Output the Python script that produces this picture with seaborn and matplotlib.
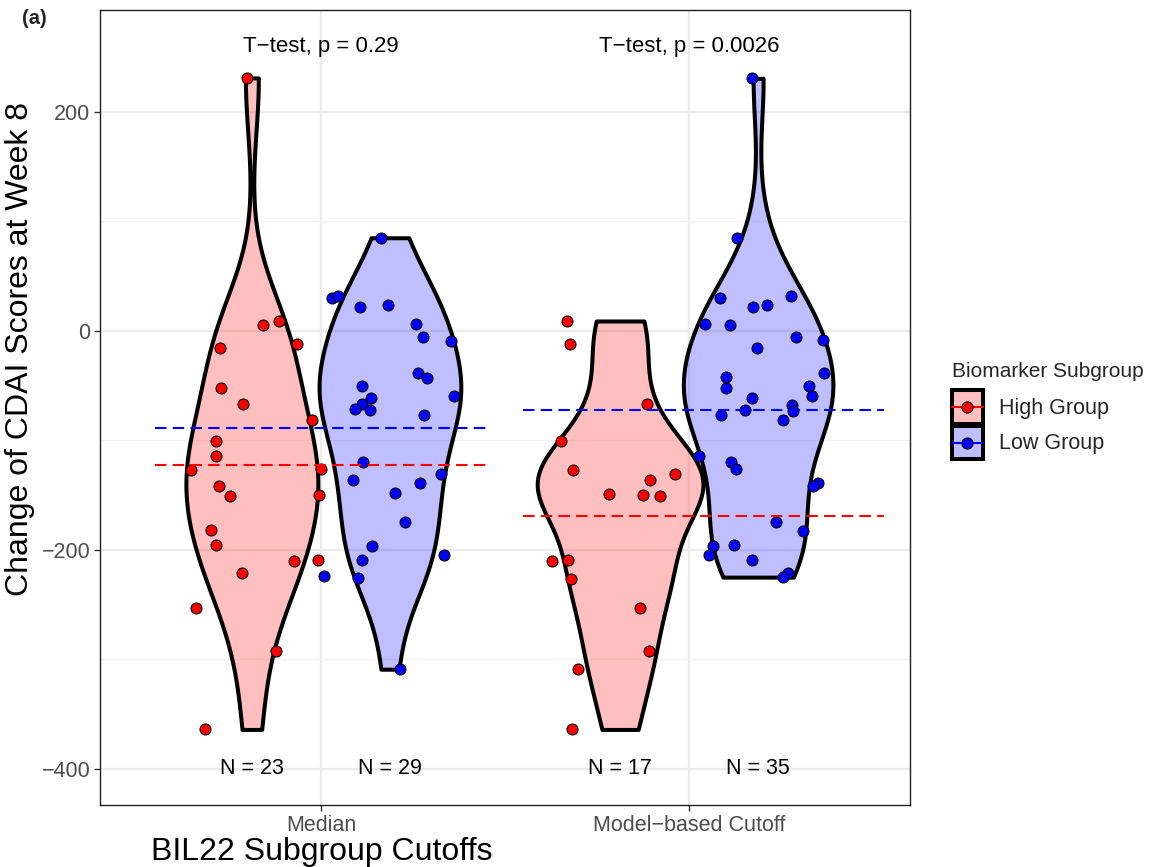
import numpy as np
import pandas as pd
import matplotlib
matplotlib.use("Agg")
import matplotlib.pyplot as plt
import seaborn as sns
from matplotlib.patches import Rectangle
from matplotlib.lines import Line2D
from matplotlib.legend_handler import HandlerBase

# ---- data -------------------------------------------------------------
categories = ["Median", "Model\u2212based Cutoff"]
groups = ["High Group", "Low Group"]
p_values = ["0.29", "0.0026"]

median_high = [231, 5.5, 9, -12, -16, -52, -66.5, -81, -101, -114.6, -126.7,
               -125.8, -141.6, -150.7, -149.5, -182.3, -195.4, -210.3, -209.4,
               -221.2, -253.1, -292, -364]
median_high_dx = [-0.014, 0.030, 0.073, 0.122, -0.087, -0.085, -0.024, 0.164,
                  -0.098, -0.097, -0.166, 0.187, -0.089, -0.059, 0.183, -0.111,
                  -0.098, 0.114, 0.180, -0.026, -0.152, 0.066, -0.127]

median_low = [85, 30, 32, 22, 24, 6, -6, -9, -38.6, -42.8, -50.4, -59.5, -61.7,
              -67.2, -71.7, -72.6, -76.6, -119.4, -136.5, -138.6, -130.6,
              -148.3, -174.4, -196.6, -209.4, -204.5, -224.2, -226, -309]
median_low_dx = [-0.024, -0.158, -0.142, -0.081, -0.005, 0.071, 0.089, 0.165,
                 0.075, 0.100, -0.077, 0.173, -0.052, -0.076, -0.094, -0.054,
                 0.092, -0.073, -0.100, 0.081, 0.140, 0.014, 0.040, -0.048,
                 -0.076, 0.147, -0.180, -0.088, 0.027]

model_high = [9, -12, -66.5, -100.9, -126.7, -130.4, -136.5, -148.6, -149.5,
              -150.4, -210.6, -209.7, -226.3, -253.4, -292, -309, -364]
model_high_dx = [-0.144, -0.135, 0.073, -0.160, -0.129, 0.150, 0.082, -0.031,
                 0.062, 0.108, -0.185, -0.141, -0.134, 0.054, 0.078, -0.114,
                 -0.131]

model_low = [230.6, 84.8, 30, 22, 24, 32, 6, 5.2, -5.5, -8.8, -15.8, -41.7,
             -38.6, -52, -50.8, -59.9, -61.7, -72, -67.7, -72.9, -76.8, -81.8,
             -114.6, -119.7, -125.8, -138.6, -141.6, -174.7, -182.6, -196.3,
             -195.4, -204.5, -209.4, -221.2, -224.9]
model_low_dx = [-0.016, -0.058, -0.103, -0.013, 0.023, 0.089, -0.143, -0.077,
                0.103, 0.176, -0.002, -0.087, 0.180, -0.087, 0.139, 0.145,
                -0.016, -0.036, 0.092, 0.095, -0.102, 0.068, -0.160, -0.074,
                -0.060, 0.162, 0.149, 0.048, 0.122, -0.122, -0.066, -0.134,
                -0.017, 0.081, 0.067]

frames = []
for cat, grp, vals, dx in [
    (categories[0], groups[0], median_high, median_high_dx),
    (categories[0], groups[1], median_low, median_low_dx),
    (categories[1], groups[0], model_high, model_high_dx),
    (categories[1], groups[1], model_low, model_low_dx),
]:
    frames.append(pd.DataFrame({"cutoff": cat, "subgroup": grp,
                                "change": vals, "dx": dx}))
df = pd.concat(frames, ignore_index=True)

# ---- style ------------------------------------------------------------
sns.set_theme(style="white")
plt.rcParams["font.family"] = ["Liberation Sans", "DejaVu Sans"]
plt.rcParams["axes.unicode_minus"] = True

point_colors = {"High Group": "#FF0000", "Low Group": "#0000FF"}
fill_colors = {"High Group": (1.0, 0.0, 0.0, 0.25),
               "Low Group": (0.0, 0.0, 1.0, 0.25)}
dodge = {"High Group": -0.1875, "Low Group": 0.1875}
cat_pos = {c: i + 1 for i, c in enumerate(categories)}
violin_max_width = 0.45

fig = plt.figure(figsize=(11.5, 8.67), dpi=100)
ax = fig.add_axes([100 / 1150, 1 - 805 / 867, 810 / 1150, 795 / 867])


def nrd0(v):
    """Silverman's rule-of-thumb bandwidth (R's bw.nrd0)."""
    v = np.asarray(v, float)
    sd = v.std(ddof=1)
    q75, q25 = np.percentile(v, [75, 25])
    lo = min(sd, (q75 - q25) / 1.34)
    return 0.9 * lo * len(v) ** -0.2


def peak_density(v, h):
    v = np.asarray(v, float)
    grid = np.linspace(v.min(), v.max(), 512)
    z = (grid[:, None] - v[None, :]) / h
    d = np.exp(-0.5 * z ** 2).sum(axis=1) / (len(v) * h * np.sqrt(2 * np.pi))
    return d.max()


# bandwidths and peaks for equal-area scaling across all violins
stats = {}
for (cat, grp), sub in df.groupby(["cutoff", "subgroup"], sort=False):
    v = sub["change"].to_numpy()
    h = nrd0(v)
    stats[(cat, grp)] = (h, peak_density(v, h), v.std(ddof=1))
global_peak = max(s[1] for s in stats.values())

# ---- violins ----------------------------------------------------------
for (cat, grp), sub in df.groupby(["cutoff", "subgroup"], sort=False):
    h, peak, sd = stats[(cat, grp)]
    pos = cat_pos[cat] + dodge[grp]
    n_before = len(ax.collections)
    sns.violinplot(x=np.full(len(sub), pos), y=sub["change"].to_numpy(),
                   native_scale=True, orient="x",
                   width=violin_max_width * peak / global_peak,
                   cut=0, bw_method=h / sd, gridsize=512, inner=None,
                   color=point_colors[grp], linecolor="black",
                   linewidth=2.9, ax=ax, zorder=2)
    for coll in ax.collections[n_before:]:
        coll.set_facecolor(fill_colors[grp])
        coll.set_edgecolor("black")
        coll.set_linewidth(2.9)
        coll.set_joinstyle("round")

# ---- jittered points --------------------------------------------------
for (cat, grp), sub in df.groupby(["cutoff", "subgroup"], sort=False):
    pos = cat_pos[cat] + dodge[grp]
    sns.scatterplot(x=pos + sub["dx"].to_numpy(), y=sub["change"].to_numpy(),
                    color=point_colors[grp], edgecolor="black",
                    linewidth=0.8, s=62, legend=False, ax=ax, zorder=3)

# ---- group means (dashed) ---------------------------------------------
mean_span = {categories[0]: (0.55, 1.45), categories[1]: (1.55, 2.53)}
for (cat, grp), sub in df.groupby(["cutoff", "subgroup"], sort=False):
    x0, x1 = mean_span[cat]
    ax.hlines(sub["change"].mean(), x0, x1, colors=point_colors[grp],
              linestyles=(0, (5.5, 3)), linewidth=1.5, zorder=4)

# ---- annotations ------------------------------------------------------
for cat, p in zip(categories, p_values):
    ax.text(cat_pos[cat], 260, f"T\u2212test, p = {p}", ha="center",
            va="center", fontsize=16, color="black")
for (cat, grp), sub in df.groupby(["cutoff", "subgroup"], sort=False):
    ax.text(cat_pos[cat] + dodge[grp], -400, f"N = {len(sub)}", ha="center",
            va="center", fontsize=15.5, color="black")

# ---- axes -------------------------------------------------------------
ax.set_xlim(0.4, 2.6)
ax.set_ylim(-433, 293)
ax.set_xticks([1, 2])
ax.set_xticklabels(categories)
ax.set_yticks([-400, -200, 0, 200])
ax.set_yticks([-300, -100, 100], minor=True)
ax.tick_params(axis="both", which="major", length=4, width=1,
               color="#333333", labelcolor="#4D4D4D", labelsize=15.5, pad=3,
               direction="out", bottom=True, left=True)
ax.tick_params(axis="y", which="minor", length=0)
ax.grid(True, which="major", color="#EBEBEB", linewidth=1.6, zorder=0)
ax.grid(True, which="minor", axis="y", color="#F2F2F2", linewidth=0.9,
        zorder=0)
ax.set_axisbelow(True)
for spine in ax.spines.values():
    spine.set_color("#222222")
    spine.set_linewidth(1.0)

ax.set_xlabel("BIL22 Subgroup Cutoffs", fontsize=23, color="black")
ax.set_ylabel("Change of CDAI Scores at Week 8", fontsize=23, color="black")
ax.xaxis.set_label_coords(0.274, -0.040)
ax.yaxis.set_label_coords(-0.080, 0.5736)


# ---- legend -----------------------------------------------------------
class GroupKey:
    def __init__(self, fill, color):
        self.fill = fill
        self.color = color


class GroupKeyHandler(HandlerBase):
    """Filled box with a centred line and point, as in ggplot keys."""

    def create_artists(self, legend, orig_handle, xdescent, ydescent,
                       width, height, fontsize, trans):
        x0, y0 = -xdescent, -ydescent
        yc = y0 + height / 2
        box = Rectangle((x0, y0), width, height, facecolor=orig_handle.fill,
                        edgecolor="black", linewidth=2.9, transform=trans)
        line = Line2D([x0, x0 + width], [yc, yc], color=orig_handle.color,
                      linewidth=1.5, transform=trans)
        dot = Line2D([x0 + width / 2], [yc], linestyle="none", marker="o",
                     markersize=8, markerfacecolor=orig_handle.color,
                     markeredgecolor="black", markeredgewidth=0.8,
                     transform=trans)
        return [box, line, dot]


handles = [GroupKey(fill_colors[g], point_colors[g]) for g in groups]
leg = fig.legend(handles=handles, labels=groups,
                 handler_map={GroupKey: GroupKeyHandler()},
                 title="Biomarker Subgroup", title_fontsize=15,
                 fontsize=15.5, loc="upper left",
                 bbox_to_anchor=(941 / 1150, 1 - 351 / 867),
                 frameon=False, borderpad=0, handlelength=1.45,
                 handleheight=2.05, handletextpad=0.75, labelspacing=0.05,
                 alignment="left")
leg._legend_box.sep = 7

fig.text(22 / 1150, 1 - 18 / 867, "(a)", fontsize=14.5, fontweight="bold",
         ha="left", va="center")

fig.savefig("out.png", dpi=100)
